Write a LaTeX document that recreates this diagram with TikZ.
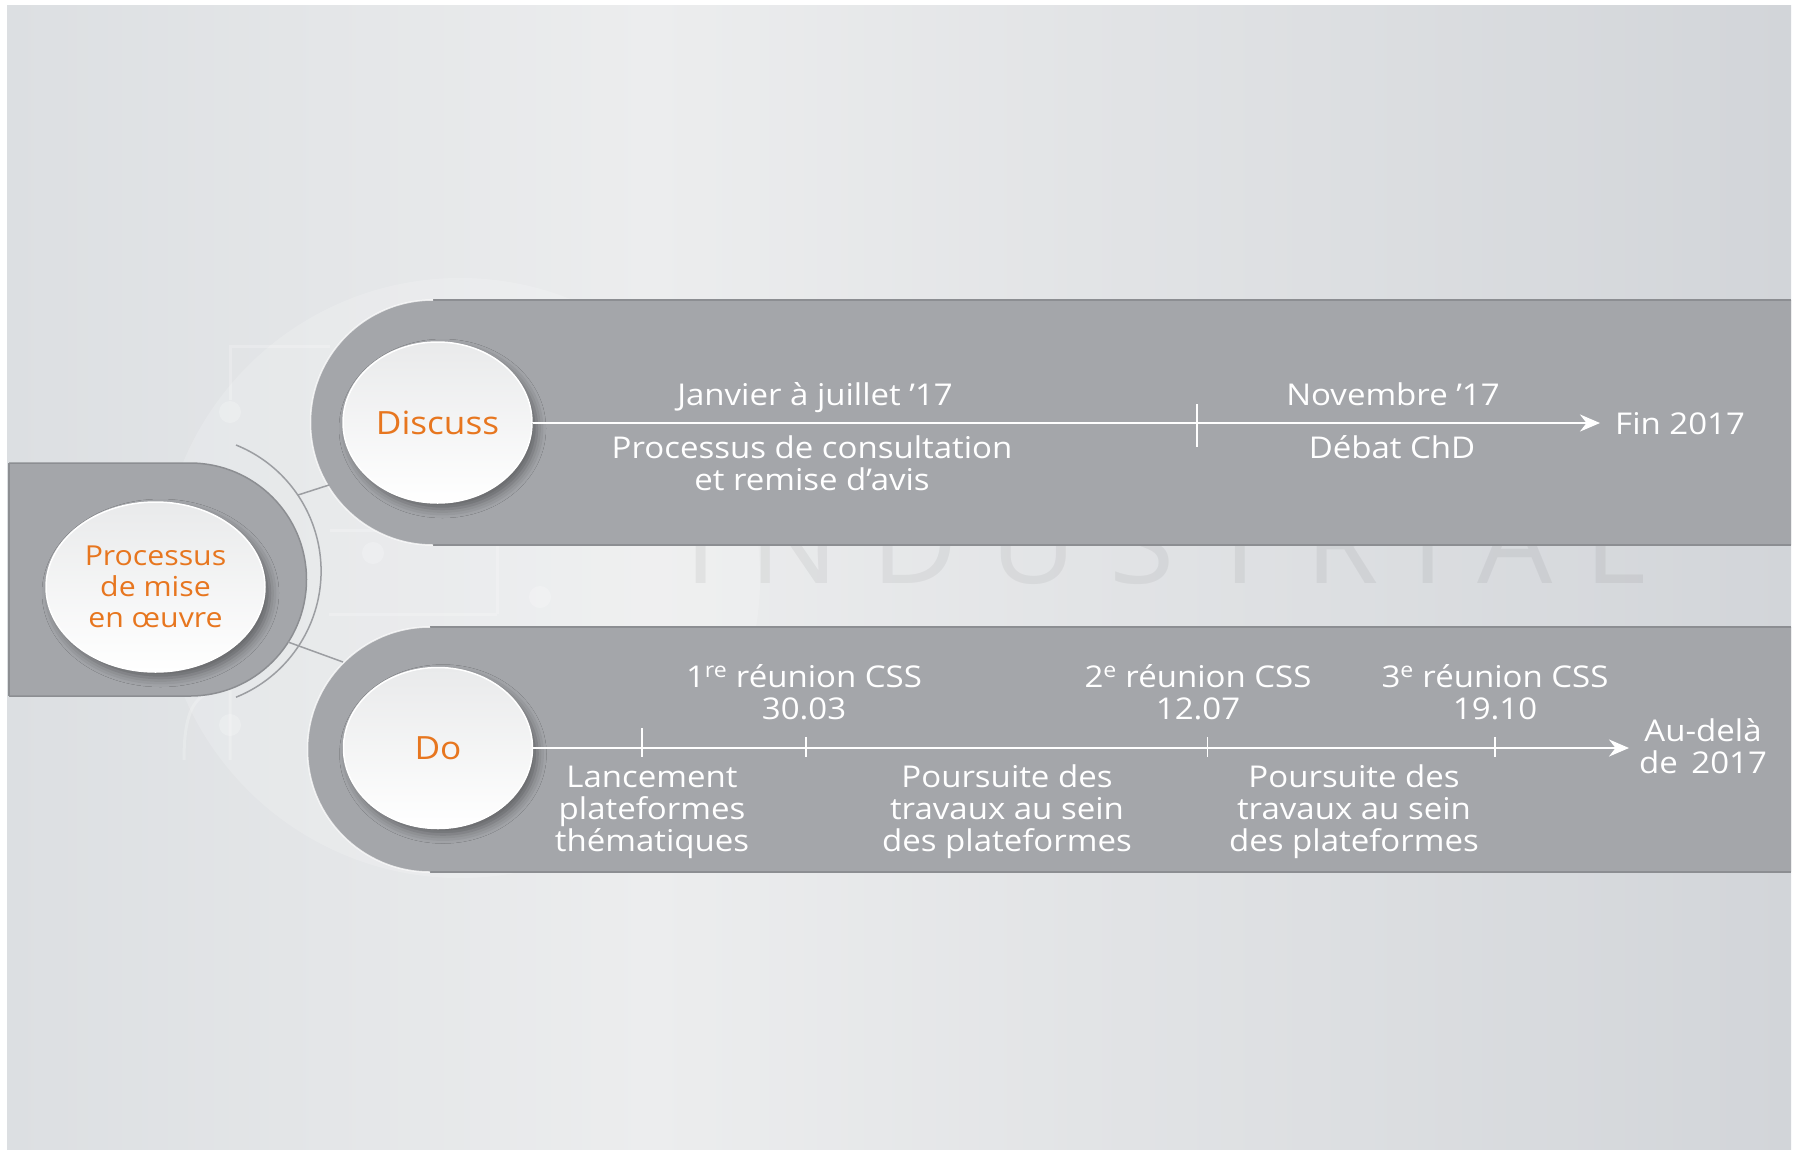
\documentclass[tikz,border=0pt]{standalone}
\usepackage{fontspec}
\setmainfont{Open Sans}[FakeStretch=1.10]
\usetikzlibrary{arrows.meta,shapes.geometric,shadows.blur}
\definecolor{bgL}{HTML}{DCDFE2}
\definecolor{bgM}{HTML}{ECEDEE}
\definecolor{bgR}{HTML}{D2D5D9}
\definecolor{bandgray}{HTML}{A4A6AA}
\definecolor{bandedge}{HTML}{8C8E92}
\definecolor{arcgray}{HTML}{9C9EA2}
\definecolor{bubtop}{HTML}{E9EAEB}
\definecolor{accent}{HTML}{E7761F}
\begin{document}
\begin{tikzpicture}[x=1pt,y=-1pt,
  bubble/.style={ellipse, inner sep=0pt, top color=bubtop, bottom color=white,
    draw=white, line width=1.5pt, text=accent, align=center,
    blur shadow={shadow xshift=5pt, shadow yshift=-6pt, shadow blur radius=9pt, shadow opacity=40}},
  lbl/.style={text=white, inner sep=0pt, align=center, font=\fontsize{30}{32}\selectfont},
  axisline/.style={white, line width=2.2pt},
  tickmark/.style={white, line width=1.6pt},
  wire/.style={white, opacity=0.22, line width=3pt},
  edge/.style={bandedge, line width=1.5pt},
  rim/.style={white, opacity=0.75, line width=1.5pt},
  link/.style={arcgray, line width=1.5pt}
]
\useasboundingbox (0,0) rectangle (1795,1149);
% page and background gradient
\fill[white] (0,0) rectangle (1795,1149);
\shade[left color=bgL, right color=bgM] (7,5) rectangle (650.5,1149);
\shade[left color=bgM, right color=bgR] (650,5) rectangle (1791,1149);

% faint logo in the background
\fill[white, opacity=0.16] (460,578) circle[radius=300pt];
\draw[wire] (330,346) -- (230,346) -- (230,400);
\fill[white, opacity=0.22] (230,412) circle[radius=11pt];
\draw[wire] (330,530) -- (497,530) (329,614) -- (497,614) (497,530) -- (497,614);
\fill[white, opacity=0.22] (373,553) circle[radius=11pt] (540,597) circle[radius=11pt];
\draw[wire] (230,680) -- (230,760) (184,760) .. controls (184,700) and (200,690) .. (230,690);
\fill[white, opacity=0.22] (230,725) circle[radius=11pt];
\node[anchor=base west, inner sep=0pt, text=black, text opacity=0.05] (wmark) at (684,583)
  {\resizebox{962pt}{82pt}{\addfontfeatures{LetterSpace=30}INDUSTRIAL}};

% bands
\fill[bandgray] (9,463) -- (190,463) arc[start angle=90, end angle=-90, radius=116.5pt] -- (9,696) -- cycle;
\draw[edge] (9,463) -- (190,463) arc[start angle=90, end angle=-90, radius=116.5pt] -- (9,696);
\draw[edge] (9,463) -- (9,696);

\fill[bandgray] (1791,300) -- (433,300) arc[start angle=90, end angle=270, radius=122.5pt] -- (1791,545) -- cycle;
\draw[edge] (1791,300) -- (433,300) (433,545) -- (1791,545);
\draw[rim] (433,300) arc[start angle=90, end angle=270, radius=122.5pt];

\fill[bandgray] (1791,627) -- (430,627) arc[start angle=90, end angle=270, radius=122.5pt] -- (1791,872) -- cycle;
\draw[edge] (1791,627) -- (430,627) (430,872) -- (1791,872);
\draw[rim] (430,627) arc[start angle=90, end angle=270, radius=122.5pt];

% arc and links between the bands
\coordinate (arcTop) at (236,445);
\draw[link] (arcTop) arc[start angle=68, end angle=-68, radius=136pt];
\coordinate (linkA) at (298,495);
\coordinate (discEdge) at (329,485);
\coordinate (procEdge) at (288,642);
\coordinate (doEdge) at (343,662);
\draw[link] (linkA) -- (discEdge);
\draw[link] (procEdge) -- (doEdge);

% bubbles
\node[bubble, minimum width=219pt, minimum height=170pt, font=\fontsize{27.5}{31}\selectfont] (proc) at (155.5,587) {Processus\\de mise\\en œuvre};
\node[bubble, minimum width=189pt, minimum height=161pt, font=\fontsize{32}{36}\selectfont] (disc) at (437.5,422.5) {Discuss};
\node[bubble, minimum width=189pt, minimum height=161pt, font=\fontsize{32}{36}\selectfont] (do) at (438,748) {Do};

% Discuss timeline
\coordinate (tipA) at (1600,423);
\draw[axisline, -{Stealth[length=20pt, width=17pt]}] (disc.east |- tipA) -- (tipA);
\coordinate (tA1) at (1197,423);
\draw[tickmark] ([yshift=19pt]tA1) -- ([yshift=-24pt]tA1);
\node[lbl, anchor=base] (jan) at (815,405) {Janvier à juillet ’17};
\node[lbl, anchor=base] (cons) at (812,490) {Processus de consultation\\et remise d’avis};
\node[lbl, anchor=base] (nov) at (1393,405) {Novembre ’17};
\node[lbl, anchor=base] (deb) at (1392,458) {Débat ChD};
\node[lbl, anchor=base west] (fin) at (1615,434) {Fin 2017};

% Do timeline
\coordinate (tipB) at (1629,748);
\draw[axisline, -{Stealth[length=20pt, width=17pt]}] (do.east |- tipB) -- (tipB);
\coordinate (tB1) at (642,748);
\coordinate (tB2) at (806,748);
\coordinate (tB3) at (1207.5,748);
\coordinate (tB4) at (1495,748);
\draw[tickmark] ([yshift=20pt]tB1) -- ([yshift=-9pt]tB1);
\foreach \t in {tB2,tB3,tB4}
  \draw[tickmark] ([yshift=11pt]\t) -- ([yshift=-9pt]\t);
\node[lbl, anchor=base] (css1) at (804,719) {1\textsuperscript{re} réunion CSS\\30.03};
\node[lbl, anchor=base] (css2) at (1198,719) {2\textsuperscript{e} réunion CSS\\12.07};
\node[lbl, anchor=base] (css3) at (1495,719) {3\textsuperscript{e} réunion CSS\\19.10};
\node[lbl, anchor=base] (beyond) at (1703,773) {Au-delà\\de\hspace{0.45em}2017};
\node[lbl, anchor=base] (launch) at (652,851) {Lancement\\plateformes\\thématiques};
\node[lbl, anchor=base] (cont1) at (1007,851) {Poursuite des\\travaux au sein\\des plateformes};
\node[lbl, anchor=base] (cont2) at (1354,851) {Poursuite des\\travaux au sein\\des plateformes};
\end{tikzpicture}
\end{document}
